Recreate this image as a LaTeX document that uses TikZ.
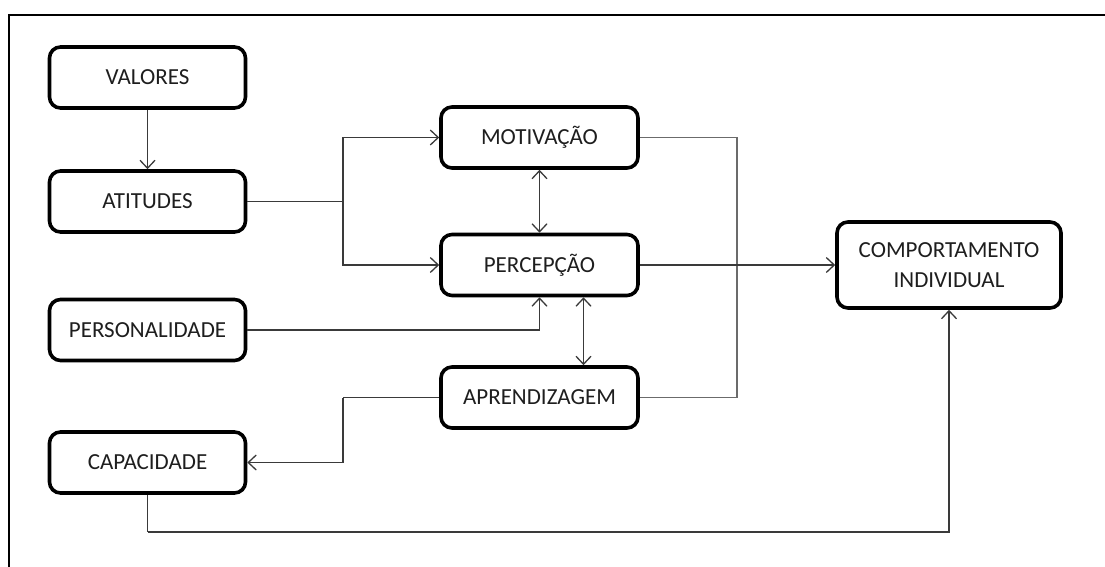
\documentclass[tikz,border=0pt]{standalone}
\usepackage{fontspec}
\setmainfont{Carlito}
\usetikzlibrary{arrows.meta}
\definecolor{wire}{HTML}{3A3A3A}
\definecolor{txt}{HTML}{1E1E1E}
\tikzset{
  box/.style={draw=black, line width=3.6pt, rounded corners=11pt, fill=white,
    align=center, inner sep=0pt, text=txt, font=\fontsize{23}{30}\selectfont},
  sidebox/.style={box, minimum width=196pt, minimum height=61pt},
  midbox/.style={box, minimum width=197pt, minimum height=61pt},
  wireline/.style={draw=wire, line width=1.3pt},
  tip/.style={wireline, -{Straight Barb[length=8pt,width=15pt,line width=1.3pt]}},
  bothtip/.style={wireline, {Straight Barb[length=8pt,width=15pt,line width=1.3pt]}-{Straight Barb[length=8pt,width=15pt,line width=1.3pt]}}
}
\begin{document}
\begin{tikzpicture}[x=1pt,y=-1pt]
  \useasboundingbox (0,0) rectangle (1105,567);
  % outer frame (top and left edges)
  \draw[line width=2.6pt] (9,567) -- (9,15) -- (1105,15);

  % boxes
  \node[sidebox] (valores)  at (147.5,77.5) {VALORES};
  \node[sidebox] (atitudes) at (147.5,201.5) {ATITUDES};
  \node[sidebox] (persona)  at (147.5,330) {PERSONALIDADE};
  \node[sidebox] (capac)    at (147.5,462.5) {CAPACIDADE};
  \node[midbox]  (motiv)    at (539.5,137.5) {MOTIVAÇÃO};
  \node[midbox]  (percep)   at (539.5,265) {PERCEPÇÃO};
  \node[midbox]  (aprend)   at (539.5,397.5) {APRENDIZAGEM};
  \node[box, minimum width=224pt, minimum height=86pt] (comp) at (949,265)
    {COMPORTAMENTO\\INDIVIDUAL};

  % connectors
  \coordinate (split) at (343,201.5);
  \coordinate (back)  at (343,397.5);
  \coordinate (loop)  at (737,137.5);
  \coordinate (base)  at (147.5,532);

  \draw[tip] (valores.south) -- (atitudes.north);
  \draw[wireline] (atitudes.east) -- (split);
  \draw[tip] (split) |- (motiv.west);
  \draw[tip] (split) |- (percep.west);
  \draw[bothtip] (motiv.south) -- (percep.north);
  \draw[wireline, draw=wire!75] (motiv.east) -- (loop) |- (aprend.east);
  \draw[tip] (percep.east) -- (comp.west);
  \draw[tip] (persona.east) -| (percep.south);
  \draw[bothtip] ([xshift=44pt]percep.south) -- ([xshift=44pt]aprend.north);
  \draw[wireline] (aprend.west) -- (back);
  \draw[tip] (back) |- (capac.east);
  \draw[wireline] (capac.south) -- (base);
  \draw[tip] (base) -| (comp.south);
\end{tikzpicture}
\end{document}
